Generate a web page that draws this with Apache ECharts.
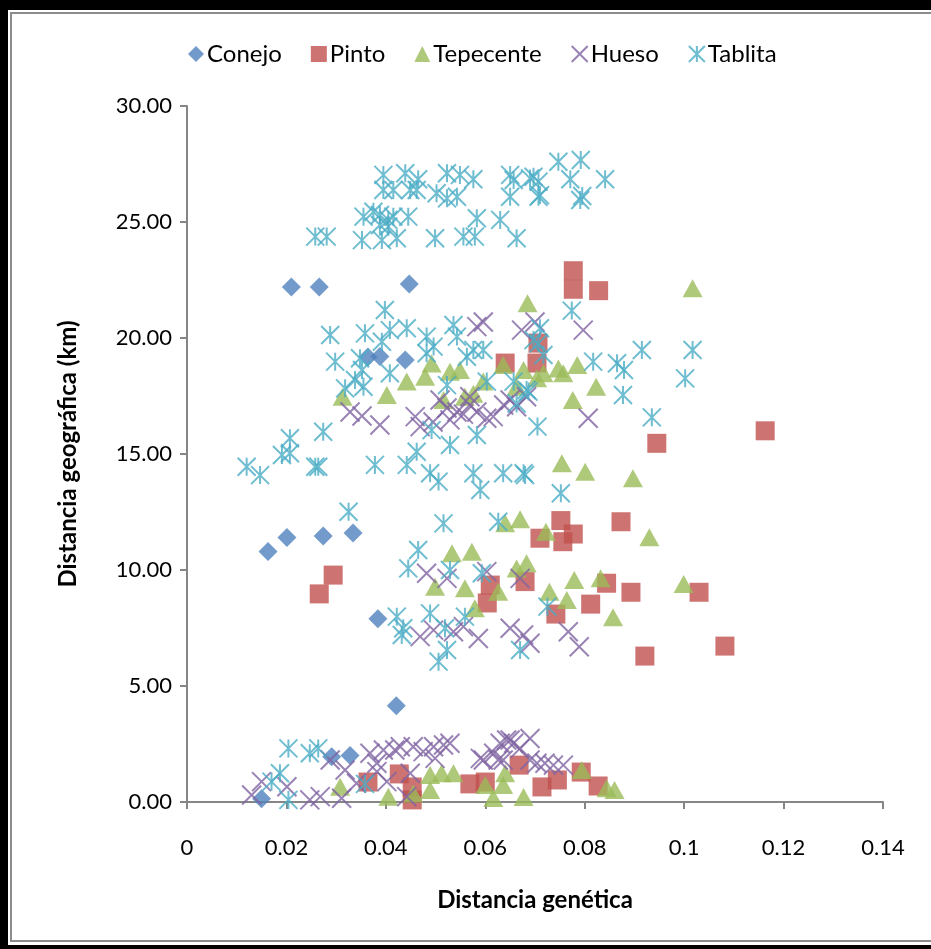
<!DOCTYPE html>
<html><head><meta charset="utf-8">
<script src="https://cdn.jsdelivr.net/npm/echarts@6/dist/echarts.min.js"></script>
<style>html,body{margin:0;padding:0;background:#fff;overflow:hidden}#c{width:931px;height:949px}</style>
</head><body><div id="c"></div>
<script>
const seriesNames = ['Conejo','Pinto','Tepecente','Hueso','Tablita'];
const xTicks = [0,0.02,0.04,0.06,0.08,0.1,0.12,0.14];
const yTicks = [0,5,10,15,20,25,30];

const conejo = [[0.021,22.2],[0.0266,22.2],[0.0447,22.33],[0.0364,19.18],[0.0388,19.2],[0.0439,19.05],
[0.0163,10.8],[0.0201,11.4],[0.0274,11.47],[0.0334,11.6],[0.0384,7.9],[0.0421,4.15],[0.0291,1.95],[0.0328,2.0],[0.015,0.14]];

const pinto = [[0.0777,22.9],[0.0777,22.1],[0.0828,22.04],[0.0945,15.46],[0.1163,16.0],[0.064,18.92],[0.0706,19.78],[0.0704,18.92],
[0.0752,12.13],[0.0777,11.55],[0.071,11.37],[0.0756,11.22],[0.0873,12.08],[0.068,9.5],[0.0844,9.43],[0.0893,9.04],[0.0812,8.53],
[0.0742,8.1],[0.103,9.04],[0.0921,6.29],[0.1082,6.72],[0.0294,9.78],[0.0266,8.97],[0.061,9.35],[0.0604,8.58],
[0.0364,0.86],[0.0427,1.21],[0.0453,0.65],[0.0453,0.09],[0.0569,0.78],[0.06,0.86],[0.0668,1.59],[0.0714,0.65],[0.0745,0.95],[0.0793,1.29],[0.0827,0.69]];

const tepecente = [[0.1017,22.14],[0.0685,21.5],
[0.0313,17.47],[0.0402,17.54],[0.0442,18.12],[0.0479,18.33],[0.0492,18.9],[0.0516,17.33],[0.0529,18.55],[0.0549,18.62],[0.0559,17.47],
[0.0576,17.6],[0.0596,18.12],[0.0636,18.84],[0.0677,18.62],[0.0663,17.9],[0.0704,18.26],[0.0717,18.48],[0.0747,18.69],[0.0757,18.48],
[0.0785,18.84],[0.0823,17.9],[0.0776,17.33],[0.0754,14.6],[0.0801,14.24],[0.0897,13.95],
[0.064,12.01],[0.067,12.19],[0.0533,10.72],[0.0573,10.79],[0.0499,9.28],[0.0559,9.21],[0.0663,10.07],[0.0683,10.29],[0.0626,9.06],
[0.0579,8.35],[0.0722,11.65],[0.093,11.41],[0.0779,9.57],[0.0832,9.64],[0.0729,9.06],[0.0764,8.71],[0.0857,7.96],[0.0999,9.4],
[0.0308,0.66],[0.0405,0.23],[0.0455,0.37],[0.0489,1.16],[0.0489,0.52],[0.0512,1.24],[0.0536,1.24],[0.06,0.73],[0.0616,0.17],
[0.0636,0.73],[0.064,1.24],[0.0677,0.22],[0.0794,1.38],[0.0844,0.59],[0.086,0.52]];

const hueso = [[0.0583,20.49],[0.0596,20.69],[0.0673,20.34],[0.07,20.69],[0.0797,20.34],[0.0807,16.54],
[0.0328,16.81],[0.0352,16.64],[0.0388,16.25],[0.0459,16.61],[0.0495,16.38],[0.0509,17.33],[0.0523,16.98],[0.0543,16.81],[0.0556,16.72],
[0.0569,17.11],[0.0583,16.81],[0.0603,16.54],[0.0616,16.61],[0.0637,17.11],[0.065,17.33],[0.0663,17.04],[0.0683,17.47],[0.0529,16.47],
[0.0469,16.18],[0.0569,17.47],
[0.0482,9.86],[0.0523,9.64],[0.0603,9.93],[0.067,9.64],[0.0469,7.13],[0.0496,7.41],[0.0536,7.34],[0.0556,7.56],[0.0586,7.05],
[0.065,7.49],[0.0677,7.2],[0.069,6.84],[0.0767,7.34],[0.0789,6.69],
[0.013,0.3],[0.015,0.88],[0.0201,0.66],[0.0247,0.09],[0.0268,0.23],[0.0288,1.81],[0.0311,0.16],[0.0318,1.38],[0.0341,0.81],
[0.0368,2.1],[0.0382,1.67],[0.0382,1.31],[0.0395,2.24],[0.0402,0.88],[0.0418,2.24],[0.0429,2.38],[0.0442,0.23],[0.0449,1.24],
[0.0455,2.38],[0.0475,2.17],[0.0496,2.38],[0.0499,1.88],[0.0516,2.46],[0.0529,2.53],[0.059,1.88],[0.0596,1.81],[0.0617,2.1],
[0.0626,1.81],[0.063,2.53],[0.0636,1.81],[0.0643,2.67],[0.065,2.67],[0.0657,2.53],[0.067,2.31],[0.069,2.74],[0.069,1.81],
[0.0704,1.67],[0.072,1.67],[0.0737,1.59],[0.0757,1.59]];

const tablita = [[0.0395,27.03],[0.0439,27.1],[0.0465,26.84],[0.0523,27.1],[0.0549,27.03],[0.0576,26.84],[0.065,27.03],[0.0657,26.81],
[0.0697,26.95],[0.0395,26.38],[0.0415,26.38],[0.0449,26.38],[0.0462,26.38],[0.0502,26.24],[0.0523,26.02],[0.0543,26.09],[0.065,26.09],
[0.0707,26.09],[0.0355,25.23],[0.0375,25.44],[0.0388,25.3],[0.0405,25.09],[0.0415,25.23],[0.0445,25.23],[0.0388,24.87],[0.0405,24.8],
[0.0583,25.16],[0.063,25.09],[0.0258,24.37],[0.0281,24.37],[0.0352,24.22],[0.0392,24.22],[0.0422,24.3],[0.0499,24.3],[0.0556,24.37],
[0.0579,24.37],[0.0663,24.3],[0.069,26.88],[0.0707,26.74],[0.071,26.16],[0.0747,27.6],[0.0792,27.67],[0.0771,26.84],[0.0841,26.84],
[0.0791,25.95],[0.0795,26.12],
[0.0774,21.18],[0.071,20.42],[0.0398,21.21],[0.0288,20.13],[0.0358,20.2],[0.0408,20.34],[0.0442,20.42],[0.0392,19.84],[0.0482,20.06],
[0.0536,20.56],[0.0543,20.06],[0.0596,19.48],[0.0298,18.98],[0.0348,19.13],[0.0352,18.62],[0.0338,18.19],[0.0355,17.9],[0.0318,17.83],
[0.0408,18.48],[0.0482,19.34],[0.0496,19.63],[0.0563,19.19],[0.0576,19.48],[0.0523,17.97],[0.0657,18.12],[0.0683,17.76],[0.0663,17.18],
[0.0697,19.91],[0.0707,19.77],[0.0717,19.27],[0.0817,18.98],[0.0865,18.91],[0.0879,18.62],[0.0915,19.48],[0.1017,19.48],[0.1002,18.26],
[0.0877,17.54],[0.0935,16.58],[0.0687,17.69],[0.0705,16.18],[0.068,14.09],[0.0752,13.31],[0.0603,18.12],
[0.0583,15.82],[0.0529,15.39],[0.0462,15.1],[0.0492,16.03],[0.0378,14.53],[0.0442,14.53],[0.0489,14.17],[0.0576,14.17],[0.0636,14.17],
[0.0677,14.17],[0.012,14.45],[0.0147,14.09],[0.0191,14.96],[0.0207,15.68],[0.0207,15.03],[0.0258,14.45],[0.0264,14.45],[0.0274,15.96],
[0.0506,13.81],[0.059,13.45],[0.0325,12.51],[0.0516,12.01],[0.0626,12.08],[0.0465,10.86],[0.0445,10.07],[0.0529,10.0],[0.0593,9.86],
[0.0422,7.99],[0.0435,7.49],[0.0489,8.13],[0.0519,7.49],[0.0559,7.99],[0.0523,6.55],[0.0506,6.05],[0.067,6.55],[0.0725,8.42],[0.0432,7.2],
[0.0204,2.31],[0.0247,2.1],[0.0264,2.31],[0.0187,1.24],[0.017,0.88],[0.0204,0.09],[0.0358,0.78]];

const colors = ['#4F81BD','#C0504D','#9BBB59','#8064A2','#4BACC6'];
const FONT = 'Lato, "Open Sans", sans-serif';

const chart = echarts.init(document.getElementById('c'), null, {renderer:'canvas'});
const lineSym = (path) => 'path://' + path;
chart.setOption({
  animation: false,
  backgroundColor: '#fff',
  graphic: [
    {type:'rect', shape:{x:0,y:0,width:931,height:10}, style:{fill:'#000'}},
    {type:'rect', shape:{x:0,y:0,width:8,height:949}, style:{fill:'#000'}},
    {type:'rect', shape:{x:0,y:945,width:931,height:4}, style:{fill:'#000'}},
    {type:'polyline', shape:{points:[[931,13],[11,13],[11,941],[931,941]]}, style:{fill:'none', stroke:'#8c8c8c', lineWidth:2}}
  ],
  legend: {
    top: 37, left: 183, itemWidth: 16, itemHeight: 16, itemGap: 29,
    textStyle: {fontFamily: FONT, fontSize: 24, color: '#000', padding:[0,0,0,-2]},
    data: seriesNames
  },
  grid: {left: 187, right: 48, top: 106, bottom: 147},
  xAxis: {
    type: 'value', min: 0, max: 0.14, interval: 0.02,
    name: 'Distancia genética', nameLocation: 'middle', nameGap: 86,
    nameTextStyle: {fontFamily: FONT, fontSize: 24, fontWeight: 'bold', color: '#000'},
    axisLine: {show: true, onZero: false, lineStyle: {color: '#868686', width: 2}},
    axisTick: {show: true, inside: false, length: 7, lineStyle: {color: '#868686', width: 2}},
    splitLine: {show: false},
    axisLabel: {margin: 35, fontFamily: FONT, fontSize: 22, color: '#000',
      formatter: v => String(Math.round(v*100)/100)}
  },
  yAxis: {
    type: 'value', min: 0, max: 30, interval: 5,
    name: 'Distancia geográfica (km)', nameLocation: 'middle', nameGap: 107,
    nameTextStyle: {fontFamily: FONT, fontSize: 24, fontWeight: 'bold', color: '#000'},
    axisLine: {show: true, lineStyle: {color: '#868686', width: 2}},
    axisTick: {show: true, inside: false, length: 7, lineStyle: {color: '#868686', width: 2}},
    splitLine: {show: false},
    axisLabel: {margin: 15, fontFamily: FONT, fontSize: 22, color: '#000', formatter: v => v.toFixed(2)}
  },
  series: [
    {name:'Conejo', type:'scatter', data: conejo, symbol:'diamond', symbolSize:19,
      itemStyle:{color:colors[0]}},
    {name:'Pinto', type:'scatter', data: pinto, symbol:'rect', symbolSize:19,
      itemStyle:{color:colors[1]}},
    {name:'Tepecente', type:'scatter', data: tepecente, symbol:'triangle', symbolSize:[20,18],
      itemStyle:{color:colors[2]}},
    {name:'Hueso', type:'scatter', data: hueso, symbol: lineSym('M0,0L10,10M10,0L0,10'), symbolSize:19,
      itemStyle:{color:'rgba(0,0,0,0)', borderColor:colors[3], borderWidth:2}},
    {name:'Tablita', type:'scatter', data: tablita, symbol: lineSym('M0,0L10,10M10,0L0,10M5,0L5,10'), symbolSize:18,
      itemStyle:{color:'rgba(0,0,0,0)', borderColor:colors[4], borderWidth:2}}
  ]
});
</script></body></html>
